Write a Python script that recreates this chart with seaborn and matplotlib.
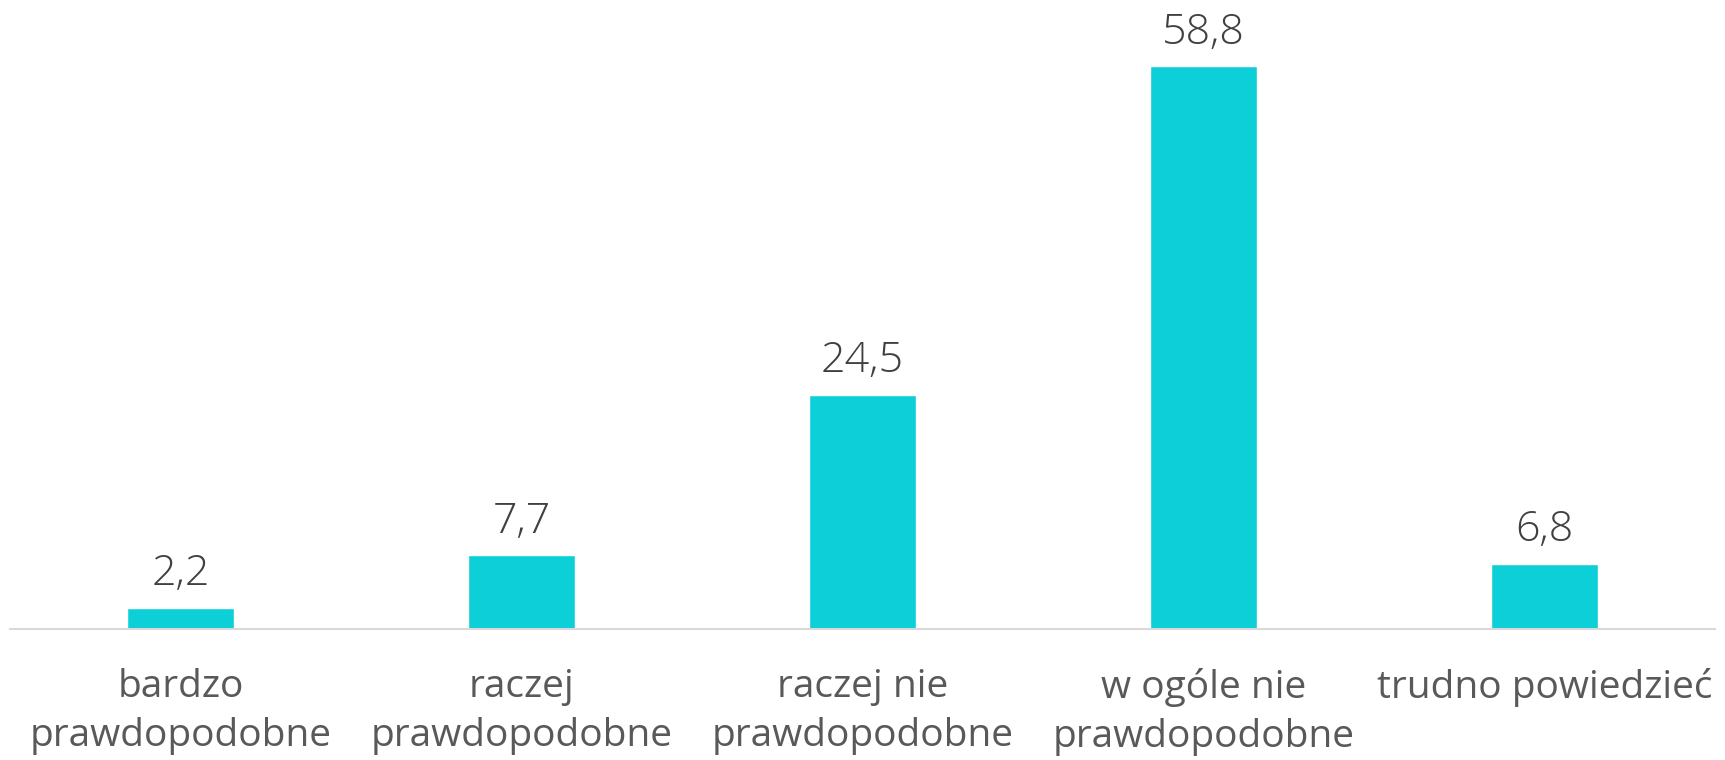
import matplotlib
matplotlib.use("Agg")
import matplotlib.pyplot as plt
import seaborn as sns
import pandas as pd

categories = ["bardzo\nprawdopodobne", "raczej\nprawdopodobne", "raczej nie\nprawdopodobne",
              "w ogóle nie\nprawdopodobne", "trudno powiedzieć"]
values = [2.2, 7.7, 24.5, 58.8, 6.8]
value_labels = ["2,2", "7,7", "24,5", "58,8", "6,8"]

sns.set_theme(style="white")
plt.rcParams['font.family'] = ['Open Sans', 'DejaVu Sans']

df = pd.DataFrame({"cat": categories, "val": values})

fig = plt.figure(figsize=(17.25, 7.6), dpi=100)
ax = fig.add_axes([10/1725, 131/760, 1705/1725, (629-55)/760])
sns.barplot(data=df, x="cat", y="val", color="#0CCFD8", width=0.314, saturation=1, ax=ax)
ax.set_xlim(-0.5, 4.5)
ax.set_ylim(0, 60)
ax.bar_label(ax.containers[0], labels=value_labels, padding=9, fontsize=31,
             fontweight="light", color="#404040", clip_on=False)
ax.set_xlabel("")
ax.set_ylabel("")
ax.set_yticks([])
for s in ["top", "right", "left"]:
    ax.spines[s].set_visible(False)
ax.spines["bottom"].set_color("#D9D9D9")
ax.spines["bottom"].set_linewidth(1.5)
ax.tick_params(axis="x", length=0, pad=28)
for t in ax.get_xticklabels():
    t.set_fontsize(28)
    t.set_color("#595959")
    t.set_linespacing(1.38)
    t.set_multialignment("center")
fig.savefig("out.png", dpi=100)
